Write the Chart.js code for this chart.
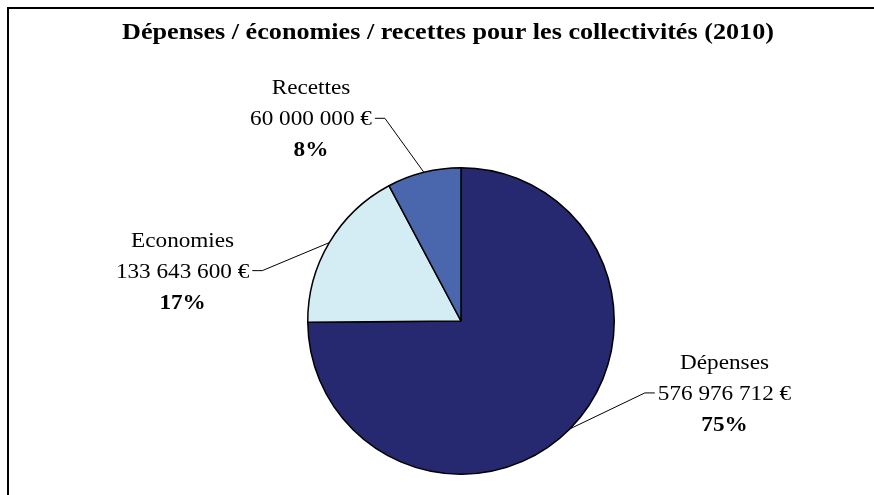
<!DOCTYPE html>
<html lang="fr">
<head>
<meta charset="utf-8">
<title>Dépenses / économies / recettes pour les collectivités (2010)</title>
<script src="https://cdn.jsdelivr.net/npm/chart.js@4.4.1/dist/chart.umd.min.js"></script>
<style>
  html, body { margin: 0; padding: 0; background: #fff; }
  #cadre { position: relative; width: 874px; height: 495px; }
</style>
</head>
<body>
<div id="cadre">
  <canvas id="camembert" width="874" height="495"></canvas>
</div>
<script>
// données 2010
const categories = ['Dépenses', 'Economies', 'Recettes'];
const montants = [576976712, 133643600, 60000000];
const couleurs = ['#262870', '#D4ECF3', '#4A67AE'];

const titre = 'Dépenses / économies / recettes pour les collectivités (2010)';

// coude de chaque trait de rappel, par rapport au milieu de l'arc
const coudes = [[75, -36], [-67, 28], [-39, -54]];

const police = '"Liberation Serif", "Times New Roman", serif';
const etirement = 1.16;   // le texte d'origine est un peu plus large
const etirementTitre = 1.09;
const interligne = 31;

function formatEuros(v){
    return String(v).replace(/\B(?=(\d{3})+(?!\d))/g, ' ') + ' €';
}

function texte(ctx, s, x, y, align, sx){
    const w = ctx.measureText(s).width * sx;
    let x0 = x;
    if(align === 'center') x0 = x - w / 2;
    if(align === 'right') x0 = x - w;
    ctx.save();
    ctx.translate(x0, y);
    ctx.scale(sx, 1);
    ctx.textAlign = 'left';
    ctx.fillText(s, 0, 0);
    ctx.restore();
    return w;
}

function pointsRappel(chart, i){
    const arc = chart.getDatasetMeta(0).data[i];
    const mid = (arc.startAngle + arc.endAngle) / 2;
    const ax = arc.x + Math.cos(mid) * arc.outerRadius;
    const ay = arc.y + Math.sin(mid) * arc.outerRadius;
    const cx = ax + coudes[i][0];
    const cy = ay + coudes[i][1];
    const sens = coudes[i][0] > 0 ? 1 : -1;
    return {ax, ay, cx, cy, sens, bx: cx + sens * 10};
}

const etiquettes = {
    id: 'etiquettes',
    beforeDatasetsDraw(chart){
        const ctx = chart.ctx;
        ctx.save();
        // cadre
        ctx.strokeStyle = '#000';
        ctx.lineWidth = 2;
        ctx.beginPath();
        ctx.moveTo(8, chart.height);
        ctx.lineTo(8, 8);
        ctx.lineTo(chart.width, 8);
        ctx.stroke();
        // traits de rappel, le camembert les recouvre à l'intérieur
        ctx.lineWidth = 1;
        categories.forEach((_, i) => {
            const p = pointsRappel(chart, i);
            ctx.beginPath();
            ctx.moveTo(p.bx, p.cy);
            ctx.lineTo(p.cx, p.cy);
            ctx.lineTo(p.ax, p.ay);
            ctx.stroke();
        });
        ctx.restore();
    },
    afterDraw(chart){
        const ctx = chart.ctx;
        const total = montants.reduce((a, b) => a + b, 0);
        ctx.save();
        ctx.fillStyle = '#000';
        ctx.textBaseline = 'alphabetic';

        ctx.font = 'bold 24px ' + police;
        texte(ctx, titre, 448, 39, 'center', etirementTitre);

        categories.forEach((nom, i) => {
            const p = pointsRappel(chart, i);
            const valeur = formatEuros(montants[i]);
            const pct = Math.round(montants[i] / total * 100) + '%';
            ctx.font = '20px ' + police;
            const w = ctx.measureText(valeur).width * etirement;
            const bord = p.bx + p.sens * 3;
            const centre = p.sens > 0 ? bord + w / 2 : bord - w / 2;
            const base = p.cy + 7;
            texte(ctx, nom, centre, base - interligne, 'center', etirement);
            texte(ctx, valeur, centre, base, 'center', etirement);
            ctx.font = 'bold 20px ' + police;
            texte(ctx, pct, centre, base + interligne, 'center', etirement);
        });
        ctx.restore();
    }
};

new Chart(document.getElementById('camembert'), {
    type: 'pie',
    data: {
        labels: categories,
        datasets: [{
            data: montants,
            backgroundColor: couleurs,
            borderColor: '#000',
            borderWidth: 1.5,
            hoverOffset: 0
        }]
    },
    options: {
        responsive: false,
        animation: false,
        devicePixelRatio: 1,
        layout: {
            padding: {left: 307, right: 259, top: 167, bottom: 20}
        },
        plugins: {
            legend: {display: false},
            tooltip: {enabled: false}
        }
    },
    plugins: [etiquettes]
});
</script>
</body>
</html>
